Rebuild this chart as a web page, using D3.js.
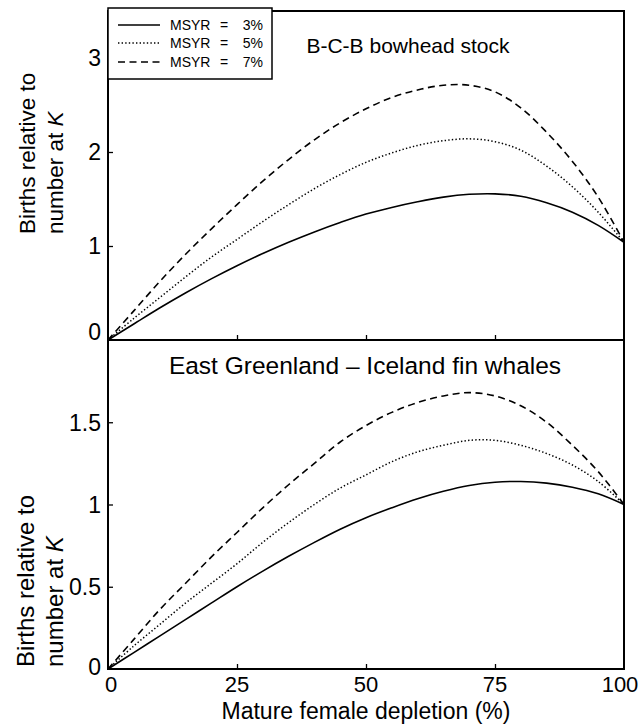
<!DOCTYPE html>
<html>
<head>
<meta charset="utf-8">
<script src="https://cdn.jsdelivr.net/npm/d3@7/dist/d3.min.js"></script>
<style>
  html, body { margin: 0; padding: 0; background: #fff; }
  svg { display: block; }
  text { font-family: "Liberation Sans", Arial, Helvetica, sans-serif; fill: #000; }
</style>
</head>
<body>
<svg id="chart" width="643" height="726"></svg>
<script>
// ---------------- data ----------------
const depletion = [0,5,10,15,20,25,30,35,40,45,50,55,60,65,70,75,80,85,90,95,100];

// B-C-B bowhead stock
const bcbMsyr3 = [0,0.17,0.34,0.50,0.65,0.79,0.92,1.04,1.15,1.25,1.34,1.41,1.47,1.52,1.55,1.555,1.53,1.46,1.36,1.22,1.04];
const bcbMsyr5 = [0,0.23,0.45,0.67,0.88,1.07,1.26,1.44,1.61,1.76,1.89,1.99,2.07,2.12,2.14,2.11,2.02,1.85,1.63,1.36,1.04];
const bcbMsyr7 = [0,0.31,0.62,0.91,1.18,1.44,1.69,1.92,2.13,2.31,2.46,2.58,2.66,2.71,2.71,2.64,2.47,2.21,1.90,1.52,1.04];

// East Greenland - Iceland fin whales
const egiMsyr3 = [0,0.10,0.20,0.30,0.40,0.50,0.595,0.685,0.77,0.85,0.92,0.98,1.035,1.08,1.115,1.135,1.14,1.13,1.105,1.065,1.00];
const egiMsyr5 = [0,0.14,0.27,0.40,0.52,0.64,0.77,0.89,1.00,1.10,1.18,1.26,1.32,1.36,1.39,1.39,1.36,1.31,1.24,1.14,1.00];
const egiMsyr7 = [0,0.18,0.36,0.52,0.68,0.83,0.98,1.12,1.25,1.38,1.48,1.56,1.62,1.66,1.68,1.66,1.60,1.50,1.36,1.20,1.00];

const xTicks = [0,25,50,75,100];
const topYTicks = [0,1,2,3];
const botYTicks = [0,0.5,1,1.5];
const seriesPct = ["3%","5%","7%"];

// ---------------- layout ----------------
const svg = d3.select("#chart");
const X0 = 108, X1 = 624;
const x = d3.scaleLinear().domain([0,100]).range([X0, X1]);

const panels = [
  { name: "B-C-B bowhead stock", domain: [0,3.5], range: [340, 11], ticks: topYTicks,
    series: [bcbMsyr3, bcbMsyr5, bcbMsyr7],
    titleX: 408, titleY: 53, titleSize: 21, labSize: 22.5, labStart: 234, labX: 35, labGap: 28, tickSize: 23 },
  { name: "East Greenland \u2013 Iceland fin whales", domain: [0,2], range: [669, 340], ticks: botYTicks,
    series: [egiMsyr3, egiMsyr5, egiMsyr7],
    titleX: 365, titleY: 374, titleSize: 24.5, labSize: 24, labStart: 667, labX: 34, labGap: 29, tickSize: 23 }
];

const styles = [
  { dash: null, width: 1.6 },
  { dash: "1.4,2.2", width: 1.5 },
  { dash: "7,4.5", width: 1.6 }
];

panels.forEach((p, pi) => {
  const y = d3.scaleLinear().domain(p.domain).range(p.range);
  const g = svg.append("g");

  // curves
  const line = d3.line()
    .x((d, i) => x(depletion[i]))
    .y(d => y(d))
    .curve(d3.curveCatmullRom.alpha(0.5));
  p.series.forEach((s, si) => {
    g.append("path")
      .attr("d", line(s))
      .attr("fill", "none")
      .attr("stroke", "#000")
      .attr("stroke-width", styles[si].width)
      .attr("stroke-dasharray", styles[si].dash);
  });

  // inward ticks via axes
  const yAxis = d3.axisLeft(y).tickValues(p.ticks.filter(t => t > 0)).tickSize(-5).tickFormat("");
  g.append("g").attr("transform", `translate(${X0},0)`).call(yAxis)
    .call(a => a.select(".domain").remove())
    .selectAll("line").attr("stroke", "#000").attr("stroke-width", 1.3);
  const xAxis = d3.axisBottom(x).tickValues([25,50,75]).tickSize(-5).tickFormat("");
  g.append("g").attr("transform", `translate(0,${p.range[0]})`).call(xAxis)
    .call(a => a.select(".domain").remove())
    .selectAll("line").attr("stroke", "#000").attr("stroke-width", 1.3);

  // frame
  g.append("rect")
    .attr("x", X0).attr("y", p.range[1])
    .attr("width", X1 - X0).attr("height", p.range[0] - p.range[1])
    .attr("fill", "none").attr("stroke", "#000").attr("stroke-width", 2);

  // y tick labels
  g.selectAll("text.ytl").data(p.ticks).join("text")
    .attr("class", "ytl")
    .attr("x", 101)
    .attr("y", d => y(d) + (d === 0 ? (pi === 0 ? -8 : -2) : 0))
    .attr("dy", "0.36em")
    .attr("text-anchor", "end")
    .style("font-size", p.tickSize + "px")
    .text(d => String(d));

  // panel title
  g.append("text")
    .attr("x", p.titleX).attr("y", p.titleY)
    .attr("text-anchor", "middle")
    .style("font-size", p.titleSize + "px")
    .text(p.name);

  // y axis title (two lines, rotated)
  const yt = g.append("text")
    .attr("transform", `translate(${p.labX},${p.labStart}) rotate(-90)`)
    .attr("text-anchor", "start")
    .style("font-size", p.labSize + "px");
  yt.append("tspan").attr("x", 0).attr("y", 0).text("Births relative to");
  const t2 = yt.append("tspan").attr("x", 0).attr("y", p.labGap);
  t2.append("tspan").text("number at ");
  t2.append("tspan").style("font-style", "italic").text("K");
});

// x tick labels
svg.selectAll("text.xtl").data(xTicks).join("text")
  .attr("class", "xtl")
  .attr("x", d => x(d) + (d === 0 ? 3 : d === 100 ? -4 : 0))
  .attr("y", 692)
  .attr("text-anchor", "middle")
  .style("font-size", "22px")
  .text(d => d);

// x axis title
svg.append("text")
  .attr("x", 366).attr("y", 719)
  .attr("text-anchor", "middle")
  .style("font-size", "23px")
  .text("Mature female depletion (%)");

// legend
const lg = svg.append("g");
lg.append("rect").attr("x", X0).attr("y", 8).attr("width", 164).attr("height", 71)
  .attr("fill", "#fff").attr("stroke", "#000").attr("stroke-width", 1.5);
const rowY = [25, 43, 62];
seriesPct.forEach((pct, i) => {
  lg.append("line").attr("x1", 118).attr("x2", 160).attr("y1", rowY[i]).attr("y2", rowY[i])
    .attr("stroke", "#000").attr("stroke-width", styles[i].width)
    .attr("stroke-dasharray", styles[i].dash);
  lg.append("text").attr("x", 170).attr("y", rowY[i] + 5).style("font-size", "14px").text("MSYR");
  lg.append("text").attr("x", 224).attr("y", rowY[i] + 5).attr("text-anchor", "middle").style("font-size", "14px").text("=");
  lg.append("text").attr("x", 263).attr("y", rowY[i] + 5).attr("text-anchor", "end").style("font-size", "14px").text(pct);
});
</script>
</body>
</html>
